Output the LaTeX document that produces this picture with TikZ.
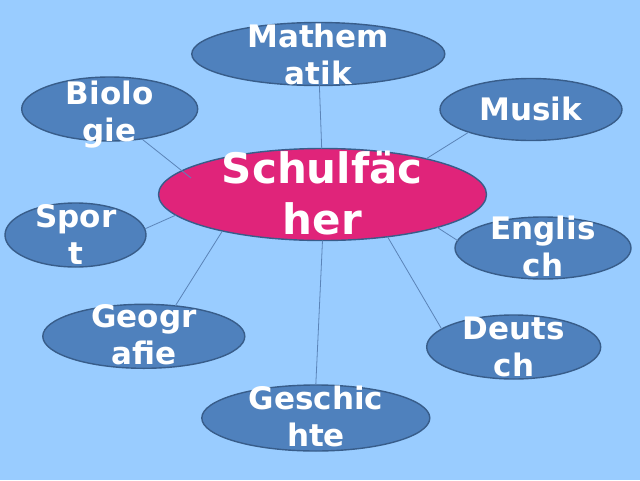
\documentclass[tikz,border=0pt]{standalone}
\usepackage{fontspec}
\setmainfont{DejaVu Sans}
\usetikzlibrary{shapes.geometric,calc}
\definecolor{bgc}{HTML}{99CCFF}
\definecolor{ellc}{HTML}{4F81BD}
\definecolor{ellb}{HTML}{385D8A}
\definecolor{pinkc}{HTML}{E0247A}
\definecolor{linec}{HTML}{5B84B8}
\newcommand{\ls}{\rule[-9pt]{0pt}{37pt}}
\newcommand{\lb}{\rule[-11pt]{0pt}{51pt}}
\begin{document}
\begin{tikzpicture}[x=1pt,y=-1pt,
  ell/.style={ellipse,draw=ellb,line width=1.4pt,fill=ellc,inner sep=0pt,outer sep=0pt},
  lbl/.style={text=white,font=\fontsize{31}{37}\selectfont\bfseries,align=center,inner sep=0pt,anchor=north},
  biglbl/.style={text=white,font=\fontsize{42}{51}\selectfont\bfseries,align=center,inner sep=0pt,anchor=north},
  conn/.style={draw=linec,line width=0.8pt}]
\useasboundingbox (0,0) rectangle (640,480);
\fill[bgc] (0,0) rectangle (640,480);
% ellipses
\node[ell,minimum width=253pt,minimum height=63pt] (mat) at (318.3,54) {};
\node[ell,minimum width=176pt,minimum height=64pt] (bio) at (109.7,109) {};
\node[ell,minimum width=182pt,minimum height=62pt] (mus) at (531,109.5) {};
\node[ell,minimum width=141pt,minimum height=64pt] (spo) at (75.5,235) {};
\node[ell,minimum width=176pt,minimum height=62pt] (eng) at (543,248) {};
\node[ell,minimum width=202pt,minimum height=64pt] (geo) at (143.8,336.3) {};
\node[ell,minimum width=174pt,minimum height=64pt] (deu) at (513.7,347) {};
\node[ell,minimum width=228pt,minimum height=66pt] (ges) at (315.8,418) {};
\node[ell,fill=pinkc,minimum width=328pt,minimum height=92pt] (sch) at (322.5,194.5) {};
% connectors
\coordinate (bioend) at ($(sch.center)+(-131.5,-16.5)$);
\draw[conn] (mat.-88) -- (sch.91);
\draw[conn] (bio.-43) -- (bioend);
\draw[conn] (mus.200) -- (sch.19);
\draw[conn] (spo.5) -- (sch.188);
\draw[conn] (geo.44) -- (sch.200);
\draw[conn] (eng.175) -- (sch.-16);
\draw[conn] (deu.166) -- (sch.-33);
\draw[conn] (ges.90) -- (sch.-90);
% labels
\node[lbl] (tmat) at (318.3,19.3) {\ls Mathem\\\ls atik};
\node[lbl] (tbio) at (109.7,76) {\ls Biolo\\\ls gie};
\node[lbl] (tmus) at (530.5,92) {\ls Musik};
\node[lbl] (tspo) at (76,199) {\ls Spor\\\ls t};
\node[lbl] (teng) at (543,211) {\ls Englis\\\ls ch};
\node[lbl] (tgeo) at (144,299.3) {\ls Geogr\\\ls afie};
\node[lbl] (tdeu) at (514,311.7) {\ls Deuts\\\ls ch};
\node[lbl] (tges) at (316,381) {\ls Geschic\\\ls hte};
\node[biglbl] (tsch) at (322.3,143.5) {\lb Schulfäc\\\lb her};
\end{tikzpicture}
\end{document}
